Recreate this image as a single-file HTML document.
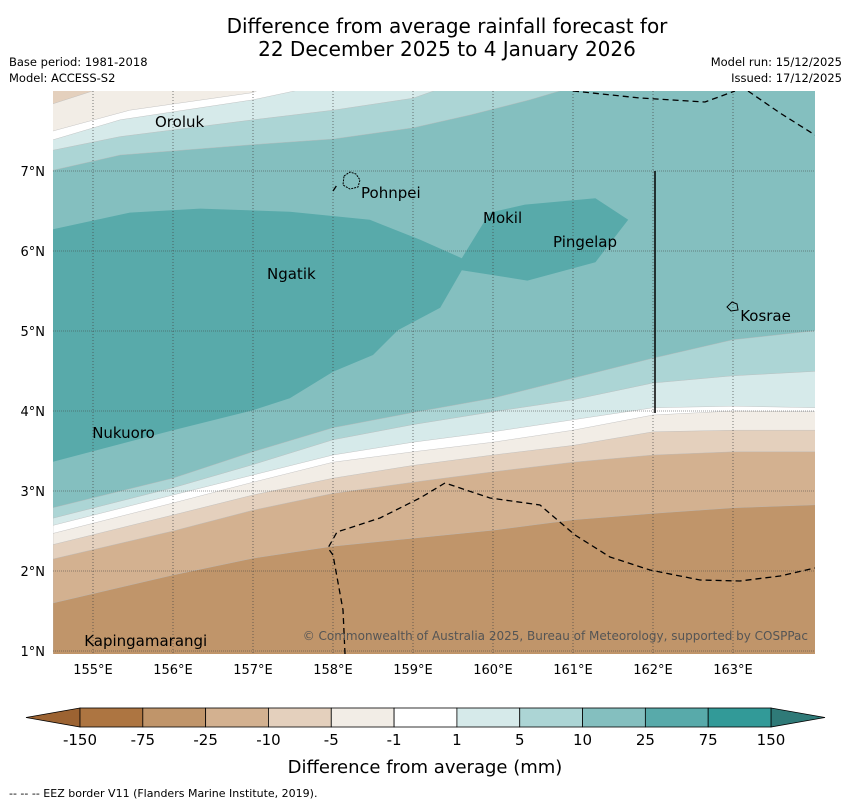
<!DOCTYPE html>
<html><head><meta charset="utf-8"><style>
body{margin:0;background:#fff;width:850px;height:804px;overflow:hidden;font-family:"DejaVu Sans","Liberation Sans",sans-serif;}
</style></head><body>
<svg id="chart" width="850" height="804" xmlns="http://www.w3.org/2000/svg" font-family="DejaVu Sans, Liberation Sans, sans-serif">
<text x="447" y="33" font-size="20" text-anchor="middle">Difference from average rainfall forecast for</text>
<text x="447" y="56" font-size="20" text-anchor="middle">22 December 2025 to 4 January 2026</text>
<text x="9" y="66" font-size="11.5">Base period: 1981-2018</text>
<text x="9" y="82" font-size="11.5">Model: ACCESS-S2</text>
<text x="842" y="66" font-size="11.5" text-anchor="end">Model run: 15/12/2025</text>
<text x="842" y="82" font-size="11.5" text-anchor="end">Issued: 17/12/2025</text>
<defs><clipPath id="mapclip"><rect x="53" y="91" width="762" height="563"/></clipPath></defs>
<g id="map" clip-path="url(#mapclip)"></g>
<g id="axes"></g>
<g id="cbar"></g>
<text x="425" y="773" font-size="18" text-anchor="middle">Difference from average (mm)</text>
<text x="9" y="797" font-size="11">--  --  -- EEZ border V11 (Flanders Marine Institute, 2019).</text>
</svg>
<script>
// ---- data ----
const lons = [154.5,156,157,158,159,160,161,162,163,164.1];
const bWet5   = [2.79,3.16,3.49,3.79,3.98,4.16,4.41,4.66,4.89,5.01];
const bWet1   = [2.66,3.04,3.33,3.64,3.83,3.99,4.14,4.35,4.44,4.50];
const bZeroHi = [2.57,2.95,3.20,3.45,3.61,3.74,3.89,4.04,4.06,4.04];
const bDry1   = [2.47,2.85,3.11,3.36,3.49,3.61,3.76,3.95,4.00,3.99];
const bDry5   = [2.33,2.70,2.95,3.16,3.32,3.45,3.57,3.74,3.76,3.76];
const bDry10  = [2.15,2.50,2.76,2.97,3.11,3.24,3.36,3.45,3.49,3.49];
const bDry25  = [1.60,1.95,2.16,2.31,2.41,2.51,2.64,2.72,2.79,2.83];
const t1Lon=[154.5,155.34,157,158,159,159.71,160.46,161.0], t1Lat=[7.01,7.2,7.33,7.4,7.54,7.7,7.89,8.05];
const t2Lon=[154.5,155.34,157,158,159,159.4], t2Lat=[7.26,7.43,7.64,7.76,7.91,8.05];
const t3Lon=[154.5,155.34,157,157.75], t3Lat=[7.39,7.64,7.89,8.05];
const t4Lon=[154.5,155.46,157,157.15], t4Lat=[7.5,7.76,7.98,8.05];
const t5Lon=[154.5,155.15], t5Lat=[7.84,8.05];
const pLon=[154.4,155.46,156.34,157.46,158.46,159.09,159.61,159.96,160.4,161.28,161.69,161.28,160.43,159.61,159.34,158.81,158.5,158,157.46,157,156,154.4];
const pLat=[6.25,6.48,6.53,6.49,6.39,6.14,5.91,6.48,6.58,6.66,6.39,5.86,5.63,5.76,5.29,5.01,4.7,4.49,4.16,4.01,3.76,3.34];
const lonTicks=[155,156,157,158,159,160,161,162,163];
const latTicks=[1,2,3,4,5,6,7];
const cbLabels=["-150","-75","-25","-10","-5","-1","1","5","10","25","75","150"];
const cbColors=["#ad7541","#c0956a","#d3b190","#e4d0bd","#f2ede6","#ffffff","#d6eaea","#acd5d5","#84bfbf","#58aaaa","#329a98"];
const places=[["Oroluk",155.775,7.55],["Pohnpei",158.35,6.66],["Mokil",159.875,6.35],["Pingelap",160.75,6.05],["Ngatik",157.175,5.65],["Kosrae",163.09,5.125],["Nukuoro",154.99,3.66],["Kapingamarangi",154.89,1.06]];
// ---- scales ----
const X=l=>53+(l-154.5)*80, Y=a=>91+(8-a)*80;
const NS="http://www.w3.org/2000/svg";
function mk(tag,attrs,parent){const e=document.createElementNS(NS,tag);for(const k in attrs)e.setAttribute(k,attrs[k]);parent.appendChild(e);return e;}
const map=document.getElementById('map');
const bg=mk('rect',{x:53,y:91,width:762,height:563,fill:'#84bfbf'},map);


function below(arr,col,name){
  let d='M'+X(lons[0])+','+Y(arr[0]);
  for(let i=1;i<lons.length;i++)d+=' L'+X(lons[i])+','+Y(arr[i]);
  d+=' L'+X(164.1)+',700 L'+X(154.5)+',700 Z';
  const p=mk('path',{d:d,fill:col,stroke:'#b9b9b9','stroke-width':0.4},map);
  
  
}
below(bWet5,'#acd5d5','band-5-10-south');
below(bWet1,'#d6eaea','band-1-5-south');
below(bZeroHi,'#ffffff','band-neutral-south');
below(bDry1,'#f2ede6','band-minus1-5-south');
below(bDry5,'#e4d0bd','band-minus5-10-south');
below(bDry10,'#d3b190','band-minus10-25-south');
below(bDry25,'#c0956a','band-minus25-75-south');
function above(lo,la,col,name){
  let d='M'+X(lo[0]-0.2)+','+Y(la[0]);
  for(let i=0;i<lo.length;i++)d+=' L'+X(lo[i])+','+Y(la[i]);
  d+=' L'+X(lo[lo.length-1])+',80 L'+X(154)+',80 Z';
  const p=mk('path',{d:d,fill:col,stroke:'#b9b9b9','stroke-width':0.4},map);
  
  
}
above(t1Lon,t1Lat,'#acd5d5','band-5-10-north');
above(t2Lon,t2Lat,'#d6eaea','band-1-5-north');
above(t3Lon,t3Lat,'#ffffff','band-neutral-north');
above(t4Lon,t4Lat,'#f2ede6','band-minus1-5-north');
above(t5Lon,t5Lat,'#e4d0bd','band-minus5-10-north');
{let d='';for(let i=0;i<pLon.length;i++)d+=(i?' L':'M')+X(pLon[i])+','+Y(pLat[i]);
 const p=mk('path',{d:d+' Z',fill:'#58aaaa'},map);
 
 }
lonTicks.forEach(l=>{const g=mk('line',{x1:X(l),x2:X(l),y1:91,y2:654,stroke:'#444','stroke-width':0.7,'stroke-dasharray':'1,2'},map);
 
 });
latTicks.forEach(a=>{const g=mk('line',{x1:53,x2:815,y1:Y(a),y2:Y(a),stroke:'#444','stroke-width':0.7,'stroke-dasharray':'1,1','stroke-opacity':0.7},map);
 
 });
[["M345,654 L343,610 L333,555 L328,548 L337,532 L380,518 L420,498 L445,483 L490,498 L540,505 L575,535 L610,557 L650,570 L700,580 L740,581 L780,576 L815,568",'eez-border-south'],
 ["M573,91 L640,98 L705,102 L735,91",'eez-border-north'],["M748,91 L780,113 L815,135",'eez-border-northeast'],["M333,191 L337,185",'eez-border-pohnpei']].forEach(([d,n])=>{
 const p=mk('path',{d:d,fill:'none',stroke:'#000','stroke-width':1.3,'stroke-dasharray':'6,4'},map);
 
 });
{const l=mk('line',{x1:655,x2:655,y1:171,y2:413,stroke:'#000','stroke-width':1.5},map);
 
 }
{const p=mk('path',{d:'M344,176 L350,172 L356,174 L360,180 L358,187 L350,189 L343,185 Z',fill:'none',stroke:'#000','stroke-width':1,'stroke-dasharray':'2,1'},map);
 
 
 const k=mk('path',{d:'M727,307 L732,302 L737,304 L738,310 L731,311 Z',fill:'none',stroke:'#000','stroke-width':1},map);
 
 }
places.forEach(([n,lo,la])=>{const t=mk('text',{x:X(lo),y:Y(la),'font-size':15,fill:'#000'},map);t.textContent=n;
 
 });
{const t=mk('text',{x:808,y:640,'font-size':12,fill:'#555','text-anchor':'end'},map);
 t.textContent='© Commonwealth of Australia 2025, Bureau of Meteorology, supported by COSPPac';
 
 }
const ax=document.getElementById('axes');
lonTicks.forEach(l=>{const t=mk('text',{x:X(l),y:674,'font-size':13,'text-anchor':'middle'},ax);t.textContent=l+'°E';
 
 });
latTicks.forEach(a=>{const t=mk('text',{x:45,y:Y(a)+5,'font-size':13,'text-anchor':'end'},ax);t.textContent=a+'°N';
 
 });
const cb=document.getElementById('cbar');
const cx0=80,cw=(771-80)/cbColors.length,cy=708,ch=19;
{const a=mk('path',{d:`M${cx0},${cy} L26,${cy+ch/2} L${cx0},${cy+ch} Z`,fill:'#9c6332',stroke:'#000','stroke-width':0.8},cb);
 
 
 const b=mk('path',{d:`M771,${cy} L825,${cy+ch/2} L771,${cy+ch} Z`,fill:'#2f7a78',stroke:'#000','stroke-width':0.8},cb);
 
 }
cbColors.forEach((c,i)=>{const r=mk('rect',{x:cx0+i*cw,y:cy,width:cw,height:ch,fill:c,stroke:'#000','stroke-width':0.8},cb);
 
 });
cbLabels.forEach((s,i)=>{const t=mk('text',{x:cx0+i*cw,y:745,'font-size':15,'text-anchor':'middle'},cb);t.textContent=s;
 
 });
</script>
</body></html>
